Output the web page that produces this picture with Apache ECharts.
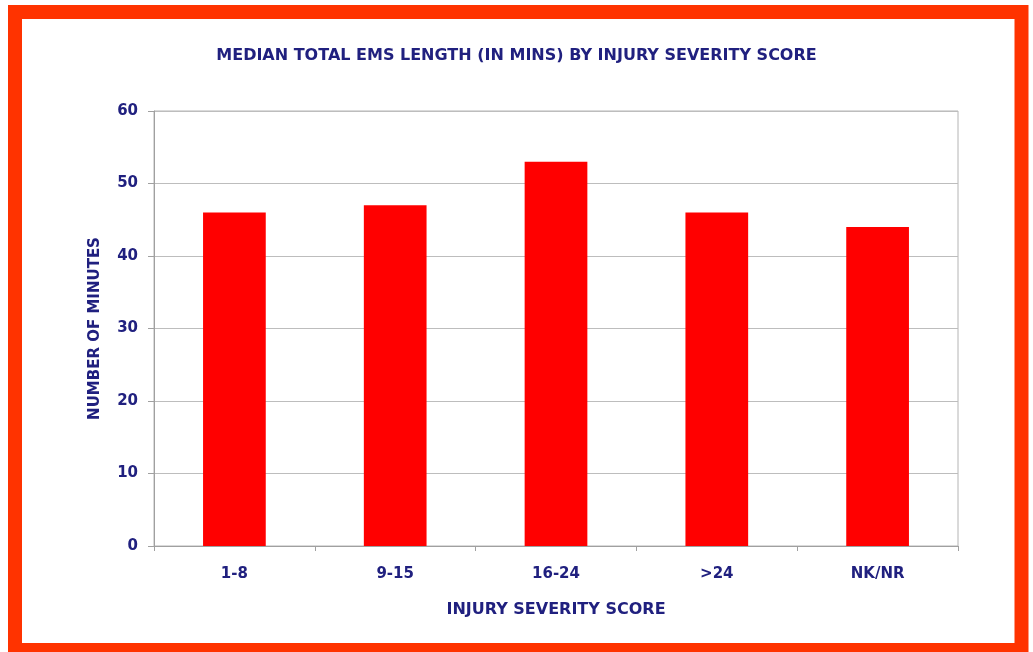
<!DOCTYPE html>
<html>
<head>
<meta charset="utf-8">
<style>
  html, body { margin: 0; padding: 0; background: #fff; }
  #chart { width: 1033px; height: 652px; }
</style>
<script src="https://cdn.jsdelivr.net/npm/echarts@6/dist/echarts.min.js"></script>
</head>
<body>
<div id="chart"></div>
<script>
// Median total EMS length by injury severity score
var categories = ['1-8', '9-15', '16-24', '>24', 'NK/NR'];
var minutes = [46, 47, 53, 46, 44];

var TEXT = '#20207f';
var FONT = 'DejaVu Sans';

var chart = echarts.init(document.getElementById('chart'), null, { renderer: 'canvas' });

chart.setOption({
  backgroundColor: '#ffffff',
  animation: false,
  title: {
    text: 'MEDIAN TOTAL EMS LENGTH (IN MINS) BY INJURY SEVERITY SCORE',
    left: 'center',
    top: 43,
    textStyle: { color: TEXT, fontFamily: FONT, fontSize: 16, fontWeight: 'bold' }
  },
  graphic: [
    {
      type: 'rect',
      shape: { x: 15, y: 12, width: 1006.5, height: 638 },
      style: { fill: 'none', stroke: '#ff3300', lineWidth: 14 },
      silent: true
    }
  ],
  grid: {
    left: 154,
    right: 75,
    top: 111,
    bottom: 106,
    show: true,
    borderColor: '#b4b4b4',
    borderWidth: 1,
    backgroundColor: 'transparent'
  },
  xAxis: {
    type: 'category',
    data: categories,
    name: 'INJURY SEVERITY SCORE',
    nameLocation: 'middle',
    nameGap: 56,
    nameTextStyle: { color: TEXT, fontFamily: FONT, fontSize: 16, fontWeight: 'bold' },
    axisLine: { lineStyle: { color: '#a0a0a0', width: 1 } },
    axisTick: { show: true, length: 5, lineStyle: { color: '#a0a0a0' } },
    axisLabel: { color: TEXT, fontFamily: FONT, fontSize: 15, fontWeight: 'bold', margin: 21 }
  },
  yAxis: {
    type: 'value',
    min: 0,
    max: 60,
    interval: 10,
    name: 'NUMBER OF MINUTES',
    nameLocation: 'middle',
    nameGap: 51,
    nameRotate: 90,
    nameTextStyle: { color: TEXT, fontFamily: FONT, fontSize: 15, fontWeight: 'bold' },
    axisLine: { show: true, lineStyle: { color: '#a0a0a0', width: 1 } },
    axisTick: { show: true, length: 6, lineStyle: { color: '#a0a0a0' } },
    axisLabel: { color: TEXT, fontFamily: FONT, fontSize: 15, fontWeight: 'bold', margin: 16 },
    splitLine: { lineStyle: { color: '#bdbdbd', width: 1 } }
  },
  series: [
    {
      type: 'bar',
      data: minutes,
      barWidth: '39%',
      itemStyle: { color: '#ff0000' }
    }
  ]
});
</script>
</body>
</html>
